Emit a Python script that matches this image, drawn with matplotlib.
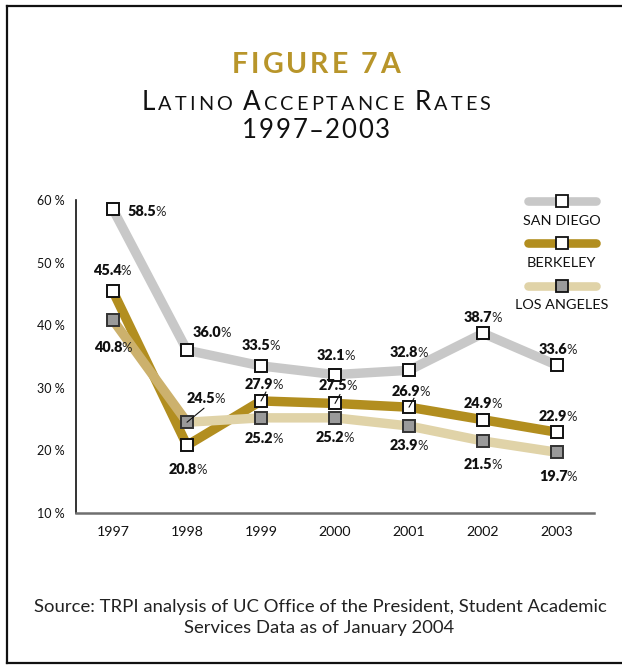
import matplotlib
matplotlib.use('Agg')
import matplotlib.pyplot as plt
from matplotlib.offsetbox import TextArea, HPacker, AnnotationBbox
from matplotlib.lines import Line2D

# ---------------- data ----------------
years = [1997, 1998, 1999, 2000, 2001, 2002, 2003]
san_diego = [58.5, 36.0, 33.5, 32.1, 32.8, 38.7, 33.6]
berkeley = [45.4, 20.8, 27.9, 27.5, 26.9, 24.9, 22.9]
los_angeles = [40.8, 24.5, 25.2, 25.2, 23.9, 21.5, 19.7]
y_ticks = [10, 20, 30, 40, 50, 60]
y_tick_labels = ['10 %', '20 %', '30 %', '40 %', '50 %', '60 %']
series_names = ['SAN DIEGO', 'BERKELEY', 'LOS ANGELES']

# ---------------- styles ----------------
FONT = ['Lato', 'DejaVu Sans']
C_SD = '#c8c8c8'
C_BK = '#b28e1f'
C_LA = '#e0d3a8'
C_LA_DARK = '#ccb16d'
C_TITLE = '#b8952a'
PX = 0.72  # pixels -> points at 100 dpi

# label offsets in pixels (dx right, dy up) relative to marker
off_sd = [(34, -2), (25, 18), (0, 20), (1, 19), (0, 18), (0, 16), (1, 16)]
off_bk = [(-1, 21), (1, -24), (3, 16), (3, 18), (2, 16), (0, 16), (1, 16)]
off_la = [(0, -27), (19, 24), (3, -21), (0, -20), (0, -20), (0, -23), (1, -24)]

fig = plt.figure(figsize=(6.22, 6.66), dpi=100)
W, H = 622, 666
ax = fig.add_axes([76 / W, 1 - 513 / H, (594 - 76) / W, (513 - 200) / H])

# frame around figure (open on the right)
for (x0, y0, x1, y1) in [(7.5 / W, 3 / H, 7.5 / W, 1 - 6 / H),
                         (7.5 / W, 1 - 6 / H, 1.0, 1 - 6 / H),
                         (7.5 / W, 3 / H, 1.0, 3 / H)]:
    fig.add_artist(Line2D([x0, x1], [y0, y1], transform=fig.transFigure,
                          color='#111111', lw=1.6))

LW = 6.8
MS = 9.2
# lines
ax.plot(years, san_diego, color=C_SD, lw=LW, zorder=2, solid_joinstyle='round')
ax.plot(years, berkeley, color=C_BK, lw=LW, zorder=3, solid_joinstyle='round')
ax.plot(years[1:], los_angeles[1:], color=C_LA, lw=LW, zorder=3.5, solid_joinstyle='round')
ax.plot(years[:2], los_angeles[:2], color=C_LA_DARK, lw=LW, zorder=3.6, solid_joinstyle='round')

# markers
ax.plot(years, san_diego, ls='none', marker='s', ms=MS, mfc='white', mec='#111111', mew=1.4, zorder=6)
ax.plot(years, berkeley, ls='none', marker='s', ms=MS, mfc='white', mec='#111111', mew=1.4, zorder=6)
ax.plot(years, los_angeles, ls='none', marker='s', ms=MS, mfc='#9a9a9a', mec='#333333', mew=1.4, zorder=6)


def value_label(x, y, dx, dy):
    num = TextArea(f'{y:.1f}', textprops=dict(family=FONT, fontweight='heavy', fontsize=10.4, color='#111111'))
    pct = TextArea('%', textprops=dict(family=FONT, fontsize=9.4, color='#222222'))
    box = HPacker(children=[num, pct], align='baseline', pad=0, sep=-0.5)
    ab = AnnotationBbox(box, (x, y), xybox=(dx * PX, dy * PX), xycoords='data',
                        boxcoords='offset points', frameon=False, box_alignment=(0.5, 0.5),
                        annotation_clip=False, zorder=8)
    ax.add_artist(ab)


for x, v, (dx, dy) in zip(years, san_diego, off_sd):
    value_label(x, v, dx, dy)
for x, v, (dx, dy) in zip(years, berkeley, off_bk):
    value_label(x, v, dx, dy)
for x, v, (dx, dy) in zip(years, los_angeles, off_la):
    value_label(x, v, dx, dy)

# leader lines
ax.annotate('', xy=(years[1], los_angeles[1]), xytext=(17 * PX, 14 * PX), textcoords='offset points',
            arrowprops=dict(arrowstyle='-', lw=0.8, color='#111111', shrinkA=0, shrinkB=0), zorder=7)
for i in (2, 3, 4):
    ax.annotate('', xy=(years[i], berkeley[i]), xytext=(5 * PX, 9 * PX), textcoords='offset points',
                arrowprops=dict(arrowstyle='-', lw=0.8, color='#111111', shrinkA=0, shrinkB=0), zorder=7)

# axes styling
ax.set_xlim(1996.5, 2003.5)
ax.set_ylim(10, 60)
ax.set_xticks(years)
ax.set_xticklabels([str(y) for y in years], family=FONT, fontsize=10.2, color='#111111')
ax.set_yticks(y_ticks)
ax.set_yticklabels(y_tick_labels, family=FONT, fontsize=9, color='#111111')
ax.tick_params(axis='both', length=0)
ax.tick_params(axis='x', pad=9)
ax.tick_params(axis='y', pad=8)
for s in ('top', 'right'):
    ax.spines[s].set_visible(False)
ax.spines['left'].set_color('#111111')
ax.spines['left'].set_linewidth(1.2)
ax.spines['bottom'].set_color('#6f6f6f')
ax.spines['bottom'].set_linewidth(1.8)
ax.patch.set_visible(False)

# legend (drawn manually)
leg_colors = [C_SD, C_BK, C_LA]
leg_mfc = ['white', 'white', '#9a9a9a']
leg_y_line = [0.997, 0.863, 0.725]
leg_y_text = [0.933, 0.799, 0.665]
for name, c, mfc, yl, yt in zip(series_names, leg_colors, leg_mfc, leg_y_line, leg_y_text):
    ax.plot([0.872, 1.003], [yl, yl], transform=ax.transAxes, color=c, lw=6.2,
            solid_capstyle='round', clip_on=False, zorder=4)
    ax.plot([0.9375], [yl], transform=ax.transAxes, marker='s', ms=8.5, mfc=mfc,
            mec='#111111', mew=1.3, clip_on=False, zorder=6)
    ax.text(0.9375, yt, name, transform=ax.transAxes, ha='center', va='center',
            family=FONT, fontsize=10.4, color='#111111')


# titles with letter spacing
def tracked(pieces, track_px, y_px, **props):
    kids = []
    for text, size in pieces:
        for ch in text:
            kids.append(TextArea(ch if ch != ' ' else '\u00a0',
                                 textprops=dict(family=FONT, fontsize=size, **props)))
    box = HPacker(children=kids, align='baseline', pad=0, sep=track_px * PX)
    fig.add_artist(AnnotationBbox(box, (316 / W, 1 - y_px / H), xycoords='figure fraction',
                                  frameon=False, box_alignment=(0.5, 0.5)))


tracked([('FIGURE 7A', 20.5)], 3.0, 65, fontweight='bold', color=C_TITLE)
BIG, SMALL = 18.8, 14.3
tracked([('L', BIG), ('ATINO ', SMALL), ('A', BIG), ('CCEPTANCE ', SMALL), ('R', BIG), ('ATES', SMALL)],
        3.0, 103, color='#111111')
tracked([('1997\u20132003', 18.5)], 1.6, 131, color='#111111')

# source
fig.text(0.515, 1 - 607 / H, 'Source: TRPI analysis of UC Office of the President, Student Academic',
         ha='center', va='center', family=FONT, fontsize=13.3, color='#222222')
fig.text(0.513, 1 - 628 / H, 'Services Data as of January 2004',
         ha='center', va='center', family=FONT, fontsize=13.3, color='#222222')

fig.savefig('out.png', dpi=100, facecolor='white')
